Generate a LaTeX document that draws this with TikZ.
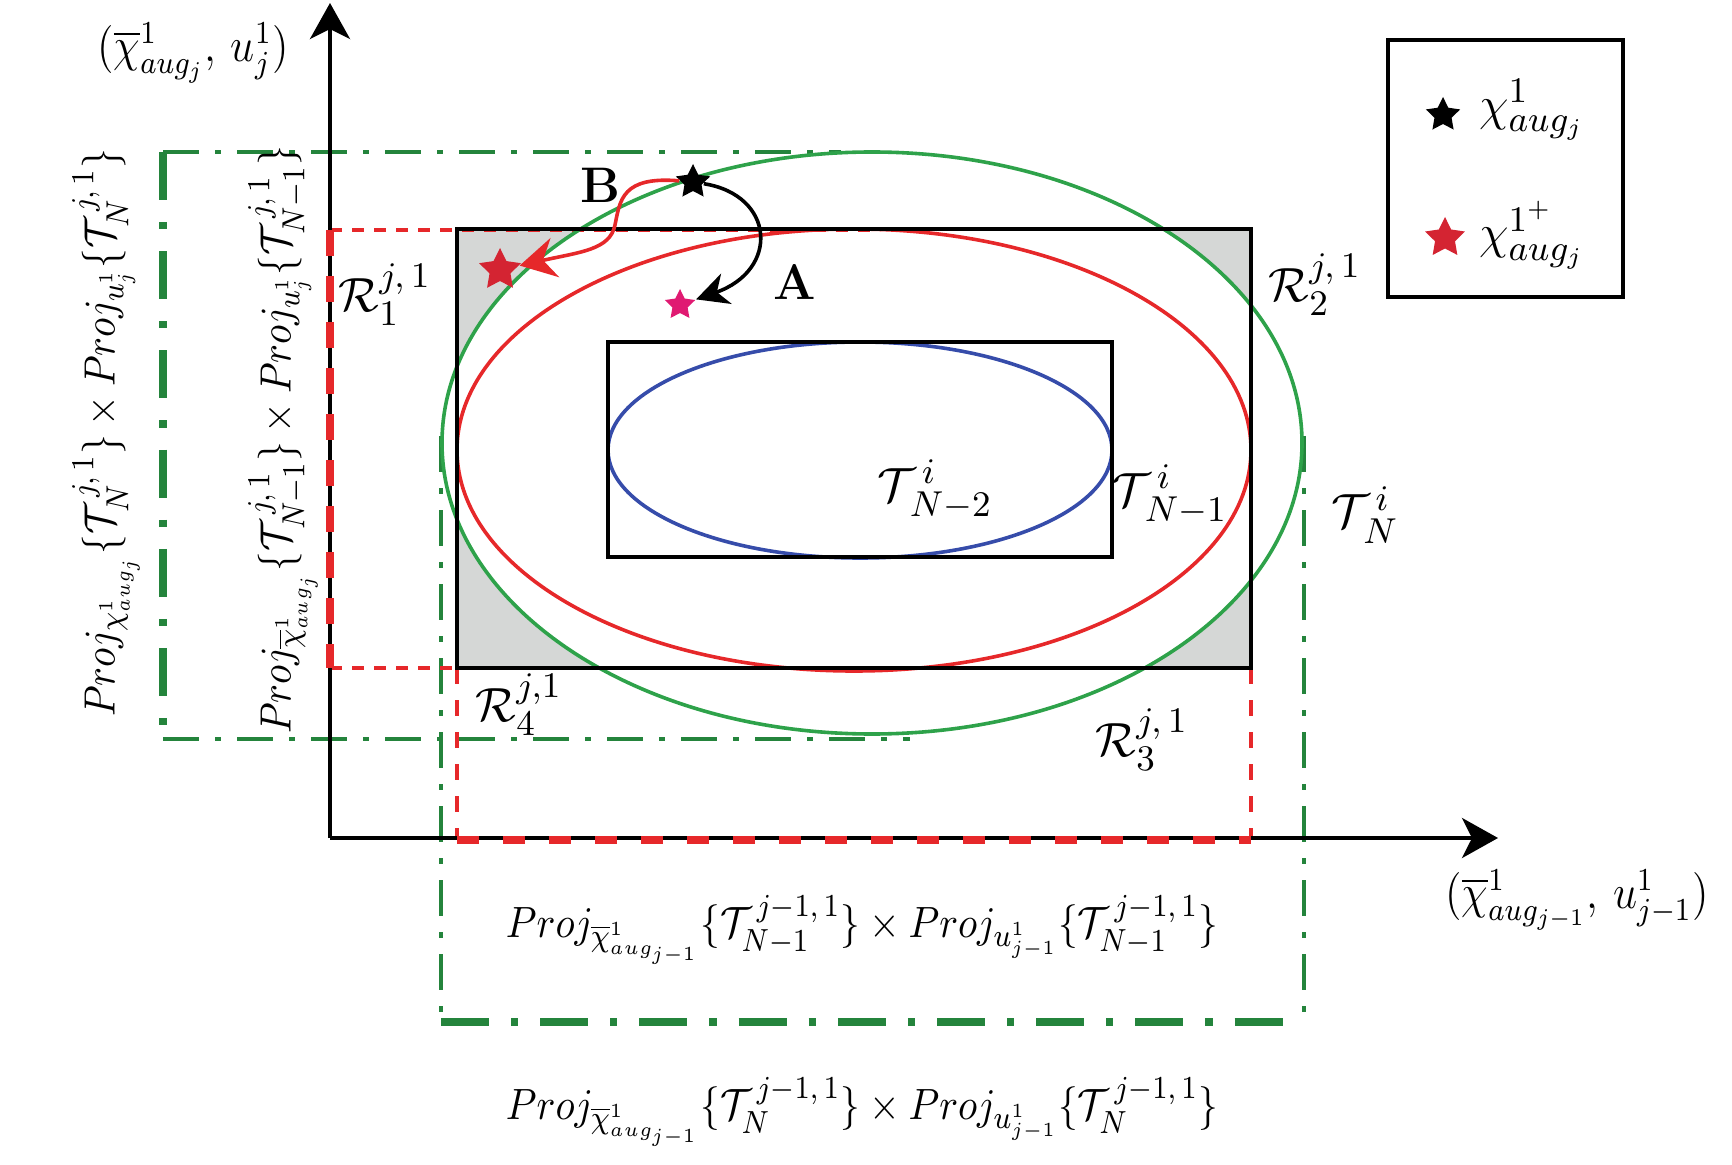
\documentclass[tikz,border=0pt]{standalone}
\usepackage{xcolor}
\usepackage{amsmath}
\usepackage{amssymb}
\usetikzlibrary{arrows.meta,shapes.geometric}

\definecolor{ellgreen}{RGB}{46,162,74}
\definecolor{projgreen}{RGB}{36,132,60}
\definecolor{setred}{RGB}{230,40,42}
\definecolor{setblue}{RGB}{54,76,170}
\definecolor{starred}{RGB}{212,36,50}
\definecolor{starpink}{RGB}{224,26,114}
\definecolor{cornergray}{RGB}{213,215,214}

\newcommand{\lblsize}{\fontsize{12.5}{15}\selectfont}

\begin{document}
\begin{tikzpicture}[x=0.25pt, y=-0.25pt,
    lbl/.style={inner sep=0pt, font=\lblsize},
    projlbl/.style={inner sep=0pt, font=\fontsize{11}{13}\selectfont, xscale=0.9},
    axlbl/.style={inner sep=0pt, font=\fontsize{11.5}{14}\selectfont, xscale=0.9},
    ablbl/.style={inner sep=0pt, font=\fontsize{12.5}{15}\selectfont\bfseries},
    starmark/.style={star, star points=5, star point ratio=2, inner sep=0pt, draw=none, minimum size=#1},
    axistip/.style={-{Stealth[length=9pt,width=10pt,inset=2.5pt]}},
    greenthin/.style={projgreen, line width=0.9pt, dash pattern=on 9pt off 4pt on 1.5pt off 4pt},
    greenthick/.style={projgreen, line width=1.8pt, dash pattern=on 12pt off 5.5pt on 1.8pt off 5.5pt},
    redthin/.style={setred, line width=0.8pt, dash pattern=on 4pt off 4pt},
    reddot/.style={setred, line width=0.9pt, dash pattern=on 3pt off 2.5pt},
    redthick/.style={setred, line width=1.8pt, dash pattern=on 6.5pt off 5pt},
    setline/.style={line width=0.9pt},
    rectline/.style={line width=1pt}]

    \useasboundingbox (0,0) rectangle (1732,1165);

    % Shaded corners of the rectangle
    \begin{scope}
        \clip (457,229) rectangle (1251,668);
        \fill[cornergray, even odd rule] (457,229) rectangle (1251,668)
            (872,443) ellipse [x radius=430, y radius=291];
    \end{scope}

    % Projection box of T_N
    \draw[greenthick] (163,152) -- (163,739);
    \draw[greenthin] (163,152) -- (841,152);
    \draw[greenthin] (163,739) -- (910,739);
    \draw[greenthin] (441,436) -- (441,1022);
    \draw[greenthin] (1304,436) -- (1304,1022);
    \draw[greenthick] (441,1022) -- (1304,1022);

    % Projection box of T_{N-1}
    \draw[reddot] (330,230) -- (880,230);
    \draw[reddot] (330,668) -- (457,668);
    \draw[redthin] (457,668) -- (457,838);
    \draw[redthin] (1251,668) -- (1251,838);

    % Axes
    \draw[line width=1pt, axistip] (330,838) -- (330,3);
    \draw[line width=1pt, axistip] (330,838) -- (1498,838);
    \draw[redthick] (330,230) -- (330,668);
    \draw[redthick, line width=2pt, dash pattern=on 5.5pt off 6pt] (457,840) -- (1251,840);

    % Sets
    \draw[setline, ellgreen] (872,443) ellipse [x radius=430, y radius=291];
    \draw[setline, setred] (854,450) ellipse [x radius=397, y radius=221];
    \draw[setline, setblue] (860,450) ellipse [x radius=252, y radius=108];
    \draw[rectline] (457,229) rectangle (1251,668);
    \draw[rectline] (608,342) rectangle (1112,557);

    % States and moves
    \node[starmark=9pt, fill=black] (xstar) at (693,182) {};
    \node[starmark=11pt, fill=starred] (xplus) at (500,270) {};
    \node[starmark=8pt, fill=starpink] (xnext) at (680,305) {};
    \draw[line width=0.9pt, -{Stealth[length=8pt,width=8pt,inset=2.5pt]}]
        (xstar) .. controls (775,195) and (780,270) .. (xnext);
    \draw[setred, line width=0.9pt, -{Stealth[length=9pt,width=10pt,inset=3pt]}]
        (xstar) .. controls (622,176) and (620,200) .. (615,225)
        .. controls (610,250) and (580,252) .. (xplus);
    \node[ablbl] (labB) at (600,185) {B};
    \node[ablbl] (labA) at (795,282) {A};

    % Labels
    \node[axlbl] (ylab) at (193,53) {$(\overline{\chi}^{1}_{aug_j},\, u^{1}_{j})$};
    \node[axlbl] (xlab) at (1577,900) {$(\overline{\chi}^{1}_{aug_{j-1}},\, u^{1}_{j-1})$};
    \node[lbl] (reg1) at (385,295) {$\mathcal{R}^{j,\,1}_{1}$};
    \node[lbl] (reg2) at (1315,285) {$\mathcal{R}^{j,\,1}_{2}$};
    \node[lbl] (reg3) at (1142,740) {$\mathcal{R}^{j,\,1}_{3}$};
    \node[lbl] (reg4) at (519,705) {$\mathcal{R}^{j,1}_{4}$};
    \node[lbl] (setA) at (935,490) {$\mathcal{T}^{\,i}_{\,N-2}$};
    \node[lbl] (setB) at (1170,495) {$\mathcal{T}^{\,i}_{\,N-1}$};
    \node[lbl] (setC) at (1365,515) {$\mathcal{T}^{\,i}_{\,N}$};
    \node[projlbl] (projA) at (862,930)
        {$Proj_{\overline{\chi}^{1}_{aug_{j-1}}}\{\mathcal{T}^{\,j-1,\,1}_{N-1}\}\times Proj_{u^{1}_{j-1}}\{\mathcal{T}^{\,j-1,\,1}_{N-1}\}$};
    \node[projlbl] (projB) at (862,1112)
        {$Proj_{\overline{\chi}^{1}_{aug_{j-1}}}\{\mathcal{T}^{\,j-1,\,1}_{N}\}\times Proj_{u^{1}_{j-1}}\{\mathcal{T}^{\,j-1,\,1}_{N}\}$};
    \node[rotate=90, projlbl] (projC) at (106,433)
        {$Proj_{\chi^{1}_{aug_j}}\{\mathcal{T}^{\,j,\,1}_{N}\}\times Proj_{u^{1}_{j}}\{\mathcal{T}^{\,j,\,1}_{N}\}$};
    \node[rotate=90, projlbl] (projD) at (283,440)
        {$Proj_{\overline{\chi}^{1}_{aug_j}}\{\mathcal{T}^{\,j,\,1}_{N-1}\}\times Proj_{u^{1}_{j}}\{\mathcal{T}^{\,j,\,1}_{N-1}\}$};

    % Legend
    \draw[rectline] (1388,40) rectangle (1623,297);
    \node[starmark=9pt, fill=black] (keyblack) at (1443,115) {};
    \node[starmark=10.5pt, fill=starred] (keyred) at (1445,238) {};
    \node[lbl] (keyblacktext) at (1532,110) {$\chi^{1}_{aug_j}$};
    \node[lbl] (keyredtext) at (1532,235) {$\chi^{1^{+}}_{aug_j}$};
\end{tikzpicture}
\end{document}
